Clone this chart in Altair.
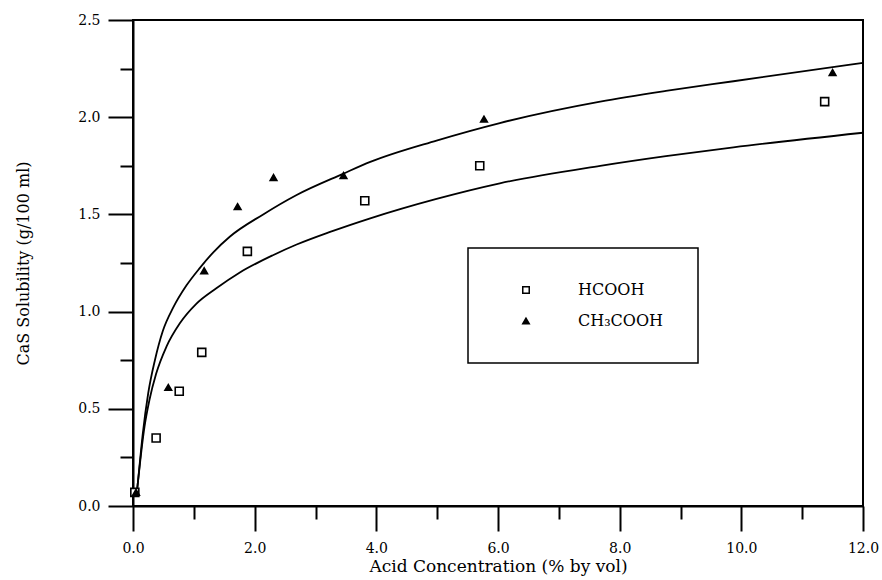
import altair as alt
import pandas as pd

# Measured CaS solubility (g/100 ml) against acid concentration (% by vol)
series_names = ["HCOOH", "CH\u2083COOH"]

hcooh_conc = [0.03, 0.38, 0.76, 1.13, 1.88, 3.81, 5.70, 11.37]
hcooh_sol = [0.07, 0.35, 0.59, 0.79, 1.31, 1.57, 1.75, 2.08]

acetic_conc = [0.05, 0.58, 1.17, 1.72, 2.31, 3.46, 5.77, 11.50]
acetic_sol = [0.07, 0.61, 1.21, 1.54, 1.69, 1.70, 1.99, 2.23]

# Fitted solubility curves
acetic_fit_x = [0.06, 0.08, 0.16, 0.25, 0.36, 0.49, 0.66, 0.88, 1.10, 1.32,
                1.59, 2.14, 2.69, 3.46, 3.90, 4.99, 6.03, 7.68, 8.76, 9.87, 12.0]
acetic_fit_y = [0.06, 0.12, 0.37, 0.58, 0.75, 0.90, 1.02, 1.135, 1.225, 1.305,
                1.385, 1.50, 1.60, 1.71, 1.77, 1.88, 1.97, 2.08, 2.135, 2.185, 2.28]

hcooh_fit_x = [0.06, 0.08, 0.19, 0.27, 0.38, 0.55, 0.77, 1.04, 1.37, 1.75,
               2.30, 2.69, 3.24, 3.90, 4.99, 6.03, 7.68, 8.76, 9.87, 12.0]
hcooh_fit_y = [0.06, 0.12, 0.41, 0.545, 0.68, 0.82, 0.94, 1.04, 1.12, 1.20,
               1.29, 1.345, 1.41, 1.48, 1.58, 1.66, 1.75, 1.80, 1.845, 1.92]

x_minor_step = 0.5
y_minor_step = 0.25

FONT = "DejaVu Serif"

hcooh_pts = pd.DataFrame({"conc": hcooh_conc, "sol": hcooh_sol,
                          "acid": [series_names[0]] * len(hcooh_conc)})
acetic_pts = pd.DataFrame({"conc": acetic_conc, "sol": acetic_sol,
                           "acid": [series_names[1]] * len(acetic_conc)})

curves = pd.DataFrame({
    "conc": acetic_fit_x + hcooh_fit_x,
    "sol": acetic_fit_y + hcooh_fit_y,
    "acid": [series_names[1]] * len(acetic_fit_x) + [series_names[0]] * len(hcooh_fit_x),
})

x_ticks = [round(i * x_minor_step, 2) for i in range(int(12 / x_minor_step) + 1)]
y_ticks = [round(i * y_minor_step, 2) for i in range(int(2.5 / y_minor_step) + 1)]

x_scale = alt.Scale(domain=[0, 12], nice=False, zero=False)
y_scale = alt.Scale(domain=[0, 2.5], nice=False, zero=False)

x_axis = alt.Axis(
    values=x_ticks,
    labelExpr="datum.value % 2 == 0 ? format(datum.value, '.1f') : ''",
    tickSize={"condition": {"test": "datum.value % 2 == 0", "value": 25}, "value": 13},
    labelFlush=False,
    labelPadding=10,
    title="Acid Concentration (% by vol)",
    titleFontSize=17,
    titlePadding=3,
)
y_axis = alt.Axis(
    values=y_ticks,
    labelExpr="round(datum.value * 4) % 2 == 0 ? format(datum.value, '.1f') : ''",
    tickSize={"condition": {"test": "round(datum.value * 4) % 2 == 0", "value": 25}, "value": 13},
    labelFlush=False,
    labelPadding=8,
    title="CaS Solubility (g/100 ml)",
    titleFontSize=16,
    titlePadding=46,
)

legend = alt.Legend(
    orient="none",
    legendX=335,
    legendY=228,
    direction="vertical",
    strokeColor="black",
    fillColor="white",
    padding=34,
    rowPadding=15,
    symbolOffset=16,
    labelOffset=44,
    labelFont=FONT,
    labelFontSize=16,
    labelColor="black",
    symbolSize=42,
    symbolStrokeWidth=1.5,
)

shape_enc = alt.Shape("acid:N", title=None,
                      scale=alt.Scale(domain=series_names, range=["square", "triangle-up"]),
                      legend=legend)
fill_enc = alt.Fill("acid:N", title=None,
                    scale=alt.Scale(domain=series_names, range=["white", "black"]),
                    legend=legend)

lines = alt.Chart(curves).mark_line(
    color="black", strokeWidth=1.8, interpolate="monotone"
).encode(
    x=alt.X("conc:Q", scale=x_scale, axis=x_axis),
    y=alt.Y("sol:Q", scale=y_scale, axis=y_axis),
    detail="acid:N",
)

squares = alt.Chart(hcooh_pts).mark_point(
    size=64, stroke="black", strokeWidth=1.6, opacity=1
).encode(
    x=alt.X("conc:Q", scale=x_scale),
    y=alt.Y("sol:Q", scale=y_scale),
    shape=shape_enc,
    fill=fill_enc,
)

triangles = alt.Chart(acetic_pts).mark_point(
    size=44, stroke="black", strokeWidth=1.6, opacity=1
).encode(
    x=alt.X("conc:Q", scale=x_scale),
    y=alt.Y("sol:Q", scale=y_scale),
    shape=shape_enc,
    fill=fill_enc,
)

chart = alt.layer(lines, squares, triangles).properties(
    width=730,
    height=486,
    autosize=alt.AutoSizeParams(type="none"),
    padding={"left": 133, "top": 20, "right": 19, "bottom": 74},
    background="white",
).configure_view(
    stroke="black", strokeWidth=2
).configure_axis(
    domainColor="black",
    domainWidth=2,
    tickColor="black",
    tickWidth=2,
    grid=False,
    labelFont=FONT,
    labelFontSize=14,
    labelColor="black",
    titleFont=FONT,
    titleFontWeight="normal",
    titleColor="black",
).configure_legend(
    strokeWidth=1.5,
)

chart.save("out.html", embed_options={"renderer": "svg", "actions": False})
